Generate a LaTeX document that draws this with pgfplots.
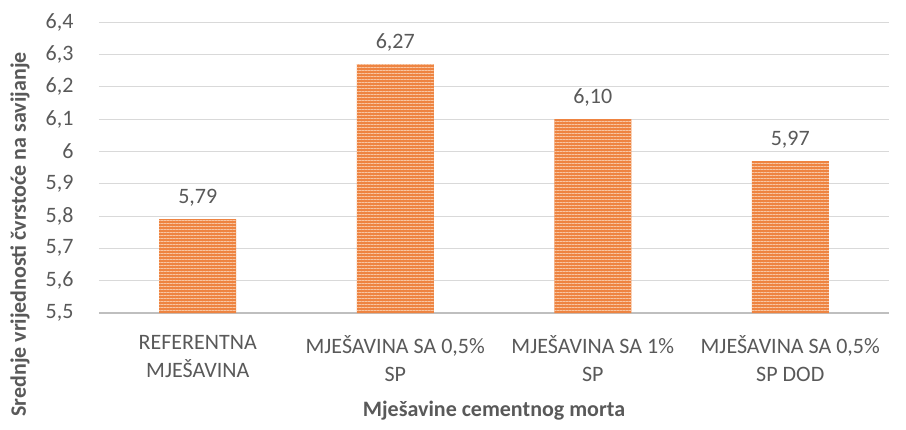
\documentclass[border=0pt]{standalone}
\usepackage{fontspec}
\setmainfont{Carlito}
\usepackage{pgfplots}
\pgfplotsset{compat=1.18}
\usetikzlibrary{patterns.meta}

\definecolor{barorange}{HTML}{EE8441}
\definecolor{stripe}{HTML}{F8C6A3}
\definecolor{txt}{HTML}{595959}
\definecolor{gridc}{HTML}{D9D9D9}
\definecolor{axisc}{HTML}{BFBFBF}

\begin{document}
\begin{tikzpicture}[font=\fontsize{22}{28}\selectfont]
\begin{axis}[
    scale only axis,
    width=790pt, height=291pt,
    xmin=-0.5, xmax=3.5,
    ymin=5.5, ymax=6.4,
    xtick={0,1,2,3},
    xticklabels={{REFERENTNA\\MJEŠAVINA},{MJEŠAVINA SA 0,5\%\\SP},{MJEŠAVINA SA 1\%\\SP},{MJEŠAVINA SA 0,5\%\\SP DOD}},
    xticklabel style={align=center, text=txt, font=\fontsize{22}{28}\selectfont, yshift=-19pt},
    ytick={5.5,5.6,5.7,5.8,5.9,6.0,6.1,6.2,6.3,6.4},
    yticklabel={\pgfmathprintnumber[fixed,precision=1,use comma,assume math mode=true]{\tick}},
    yticklabel style={text=txt, xshift=-22pt},
    major tick length=0pt,
    ymajorgrids,
    grid style={gridc, line width=1pt},
    axis x line*=bottom, axis y line*=left,
    x axis line style={axisc, line width=1.4pt, -},
    y axis line style={draw=none},
    ybar, bar width=77pt,
    nodes near coords={\pgfmathprintnumber[fixed,fixed zerofill,precision=2,use comma,assume math mode=true]{\pgfplotspointmeta}},
    nodes near coords style={text=txt, anchor=south, yshift=9pt},
    xlabel={\textbf{Mješavine cementnog morta}},
    xlabel style={at={(rel axis cs:0.5,-0.335)}, anchor=center, text=txt},
    ylabel={\textbf{Srednje vrijednosti čvrstoće na savijanje}},
    every axis y label/.style={at={(rel axis cs:-0.1,0.27)}, anchor=center, rotate=90, text=txt},
]
\addplot[fill=barorange, draw=none,
    postaction={pattern={Lines[angle=0,distance=3pt,line width=0.9pt]}, pattern color=stripe}]
    coordinates {(0,5.79) (1,6.27) (2,6.10) (3,5.97)};
\coordinate (bbl) at (rel axis cs:-0.1253,-0.402);
\coordinate (btr) at (rel axis cs:1.0215,1.0756);
\end{axis}
\path (bbl) rectangle (btr);
\end{tikzpicture}
\end{document}
